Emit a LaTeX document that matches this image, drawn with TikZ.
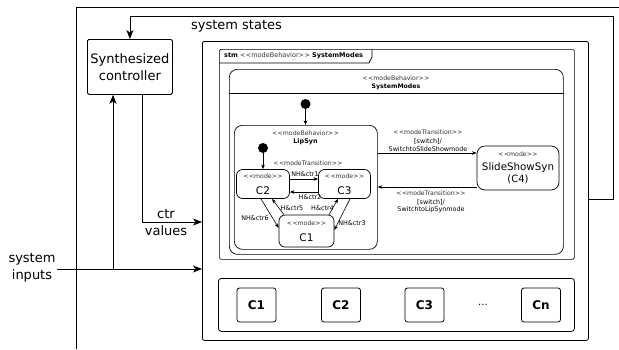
\documentclass[tikz,border=0pt]{standalone}
\usepackage{fontspec}
\setmainfont{DejaVu Sans}
\usetikzlibrary{arrows.meta}
\newcommand\stereo[1]{<\kern.5pt<#1>\kern.5pt>}
\newcommand\fsz[1]{\fontsize{#1}{#1}\selectfont}
\begin{document}
\begin{tikzpicture}[x=1pt,y=-1pt, line join=round,
  box/.style={draw, inner sep=0pt, anchor=north west},
  big/.style={font=\fontsize{13}{16.5}\selectfont, inner sep=1pt},
  bigarr/.style={-{Stealth[length=9pt,width=7pt,inset=2.5pt]}, line width=0.8pt},
  smarr/.style={-{Stealth[length=4.5pt,width=3.5pt,inset=1.2pt]}, line width=0.6pt},
  lbl/.style={font=\fsz{6.4}, inner sep=0.5pt},
  stlbl/.style={font=\fsz{6.2}, inner sep=0.5pt, text=black!80},
  modebox/.style={draw, rounded corners=6pt, inner sep=0pt, line width=0.7pt, align=center},
  compbox/.style={draw, rounded corners=2.5pt, minimum width=39pt, minimum height=34pt, inner sep=0pt, line width=0.8pt, font=\bfseries\fsz{12}}
]
\useasboundingbox (0,0) rectangle (619,349);

% outer frame (open)
\draw[line width=0.8pt] (76,349) -- (76,7) -- (619,7);

% controller
\node[box, minimum width=85pt, minimum height=55pt, rounded corners=1.5pt, align=center, big, line width=0.8pt] (ctrl) at (87,39) {Synthesized\\controller};

% main boxes
\node[box, minimum width=386pt, minimum height=299pt, rounded corners=2pt, line width=0.8pt] (mid) at (202,41) {};
\node[box, minimum width=355pt, minimum height=210pt, rounded corners=1.5pt, line width=0.7pt] (stm) at (219,49) {};
\draw[line width=0.7pt] (219,63) -- (369,63) -- (372,57) -- (372,49);
\node[anchor=west, font=\fsz{6.5}, inner sep=0pt] (stmlbl) at (224,55.5) {\textbf{stm} {\color{black!80}\stereo{modeBehavior}} \textbf{SystemModes}};
\node[font=\fsz{4}, inner sep=0pt] (dots0) at (294,60.5) {...};

% SystemModes state
\node[box, minimum width=334pt, minimum height=185pt, rounded corners=8pt, line width=0.7pt] (sm) at (229,69) {};
\draw[line width=0.7pt] (sm.west |- 0,93) -- (sm.east |- 0,93);
\node[stlbl] (smst) at (396,78) {\stereo{modeBehavior}};
\node[lbl, font=\bfseries\fsz{6.2}] (smname) at (396,86.5) {SystemModes};

% initial 1
\node[circle, fill, inner sep=0pt, minimum size=10pt] (init1) at (305.5,104) {};
\node[box, minimum width=143pt, minimum height=124pt, rounded corners=8pt, line width=0.7pt] (lip) at (234,125) {};
\draw[smarr] (init1) -- (init1 |- lip.north);
\node[stlbl] (lipst) at (305.5,133) {\stereo{modeBehavior}};
\node[lbl, font=\bfseries\fsz{6.4}] (lipname) at (305.5,142) {LipSyn};

% modes
\node[modebox, minimum width=53pt, minimum height=29pt] (C2) at (263,184) {{\fsz{6.2}\color{black!80}\stereo{mode}}\\[3.5pt]\fsz{10.5}C2};
\node[modebox, minimum width=52pt, minimum height=29pt] (C3) at (344.5,184) {{\fsz{6.2}\color{black!80}\stereo{mode}}\\[3.5pt]\fsz{10.5}C3};
\node[modebox, minimum width=55pt, minimum height=32pt] (C1) at (306.5,231) {{\fsz{6.2}\color{black!80}\stereo{mode}}\\[4.5pt]\fsz{10.5}C1};

\node[circle, fill, inner sep=0pt, minimum size=10pt] (init2) at (263,148) {};
\draw[smarr] (init2) -- (C2.north);
\node[stlbl] (mtr) at (308,163) {\stereo{modeTransition}};

\draw[smarr] ([yshift=5pt]C2.east) -- ([yshift=5pt]C3.west);
\draw[smarr] ([yshift=-8pt]C3.west) -- ([yshift=-8pt]C2.east);
\draw[smarr] ([xshift=-2pt]C2.south) -- ([yshift=3pt]C1.west);
\draw[smarr] ([xshift=-22.5pt]C1.north) -- ([xshift=9pt]C2.south);
\draw[smarr] ([xshift=22.5pt]C1.north) -- ([xshift=-6.5pt]C3.south);
\draw[smarr] ([xshift=5.5pt]C3.south) -- ([yshift=1pt]C1.east);

\node[lbl] (t1) at (305,174.5) {NH\&ctr1};
\node[lbl] (t2) at (310,197.5) {H\&ctr2};
\node[lbl] (t5) at (292,208) {H\&ctr5};
\node[lbl] (t4) at (322.5,208) {H\&ctr4};
\node[lbl] (t6) at (255,218) {NH\&ctr6};
\node[lbl] (t3) at (352,223) {NH\&ctr3};

% SlideShowSyn
\node[modebox, rounded corners=8pt, minimum width=82pt, minimum height=44pt] (ss) at (518,168) {{\fsz{6.2}\color{black!80}\stereo{mode}}\\[2.5pt]\fontsize{10.3}{13.5}\selectfont SlideShowSyn\\(C4)};
\coordinate (ya) at (0,153);
\coordinate (yb) at (0,187);
\draw[smarr] (lip.east |- ya) -- (ss.west |- ya);
\draw[smarr] (ss.west |- yb) -- (lip.east |- yb);
\node[stlbl] (ta1) at (428,132) {\stereo{modeTransition}};
\node[lbl] (ta2) at (428,141) {[switch]/};
\node[lbl] (ta3) at (428,149) {SwitchtoSlideShowmode};
\node[stlbl] (tb1) at (431,193) {\stereo{modeTransition}};
\node[lbl] (tb2) at (431,202) {[switch]/};
\node[lbl] (tb3) at (431,210) {SwitchtoLipSynmode};

% components
\node[box, minimum width=356pt, minimum height=53pt, rounded corners=3pt, line width=0.8pt] (comp) at (218,278) {};
\node[compbox] (b1) at (256.5,305) {C1};
\node[compbox] (b2) at (341,305) {C2};
\node[compbox] (b3) at (424.5,305) {C3};
\node[compbox] (bn) at (541,305) {Cn};
\node[font=\fsz{10}, inner sep=0pt] (bdots) at (483,305) {...};

% system states feedback
\coordinate (ssy) at (0,199);
\coordinate (sstop) at (613,16);
\draw[bigarr] (mid.east |- ssy) -- (sstop |- ssy) -- (sstop) -- (ctrl.north |- sstop) -- (ctrl.north);
\node[big] (sslbl) at (236.5,26.5) {system states};

% ctr values
\coordinate (cv) at (142,222);
\draw[bigarr] (ctrl.south -| cv) -- (cv) -- (mid.west |- cv);
\node[big, align=center] (cvlbl) at (166,222.5) {ctr\\values};

% system inputs
\node[big, align=center] (sysin) at (32,268) {system\\inputs};
\coordinate (si) at (113,269);
\draw[bigarr] (sysin.east |- si) -- (mid.west |- si);
\draw[bigarr] (si) -- (ctrl.south -| si);
\end{tikzpicture}
\end{document}
